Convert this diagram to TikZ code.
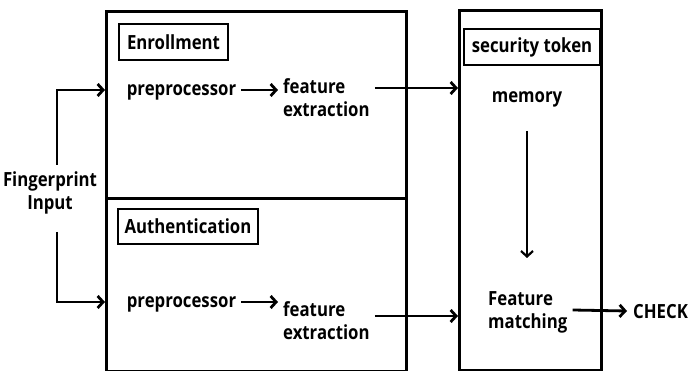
\documentclass[tikz,border=0pt]{standalone}
\usepackage{fontspec}
\setmainfont{Open Sans}[FakeStretch=0.86]
\usetikzlibrary{arrows.meta}
\tikzset{
  txt/.style={font=\bfseries\fontsize{19.5}{23}\selectfont, inner sep=0pt, inner xsep=5pt, align=left},
  one/.style={txt, text height=10.4pt, text depth=0pt},
  panel/.style={draw, line width=2.8pt, inner sep=0pt, anchor=north west},
  tag/.style={draw, line width=2pt, font=\bfseries\fontsize{19.5}{23}\selectfont, inner sep=0pt, anchor=north west},
  arr/.style={line width=2.8pt, -{Straight Barb[length=5.5pt,width=12pt]}},
  thinarr/.style={line width=2.2pt, -{Straight Barb[length=5.5pt,width=12pt]}}
}
\begin{document}
\begin{tikzpicture}[x=1pt,y=-1pt]
\useasboundingbox (0,0) rectangle (689,371);
% panels
\node[panel, minimum width=300pt, minimum height=187pt] (enr) at (105,10) {};
\node[panel, minimum width=300pt, minimum height=173pt] (aut) at (105,197) {};
\node[panel, minimum width=142pt, minimum height=360pt] (tok) at (458,9) {};
% tags
\node[tag, minimum width=109pt, minimum height=36pt] (tagE) at (118,23) {Enrollment};
\node[tag, minimum width=140pt, minimum height=35pt] (tagA) at (117,208) {Authentication};
\node[tag, minimum width=136pt, minimum height=36pt] (tagT) at (463,28) {security token};
% texts
\node[txt, align=center] (fp) at (50,193) {Fingerprint\\Input};
\node[one] (pre1) at (181.5,90) {preprocessor};
\node[txt, anchor=west] (fe1) at (278,98) {feature\\extraction};
\node[one] (pre2) at (181.5,302) {preprocessor};
\node[txt, anchor=west] (fe2) at (278,321) {feature\\extraction};
\node[one] (mem) at (527,97.5) {memory};
\node[txt, anchor=west] (fm) at (483,312) {Feature\\matching};
\node[txt, anchor=west, inner xsep=6pt] (chk) at (627,312) {CHECK};
% connectors
\coordinate (in1) at (57,165);
\coordinate (in2) at (57,232);
\draw[arr] (in1) |- (pre1.west -| enr.west);
\draw[arr] (in2) |- (pre2.west -| aut.west);
\draw[arr] (pre1.east) -- (pre1.east -| fe1.west);
\draw[arr] (pre2.east) -- (pre2.east -| fe2.west);
\draw[arr] ([yshift=10pt]fe1.east) -- ([yshift=10pt]fe1.east -| tok.west);
\draw[arr] ([yshift=5pt]fe2.east) -- ([yshift=5pt]fe2.east -| tok.west);
\draw[thinarr] ([yshift=-28pt]mem.south) -- ([yshift=33pt]fm.north -| mem.south);
\draw[arr] ([yshift=2pt]fm.east) -- ([yshift=1pt]chk.west);
\end{tikzpicture}
\end{document}
